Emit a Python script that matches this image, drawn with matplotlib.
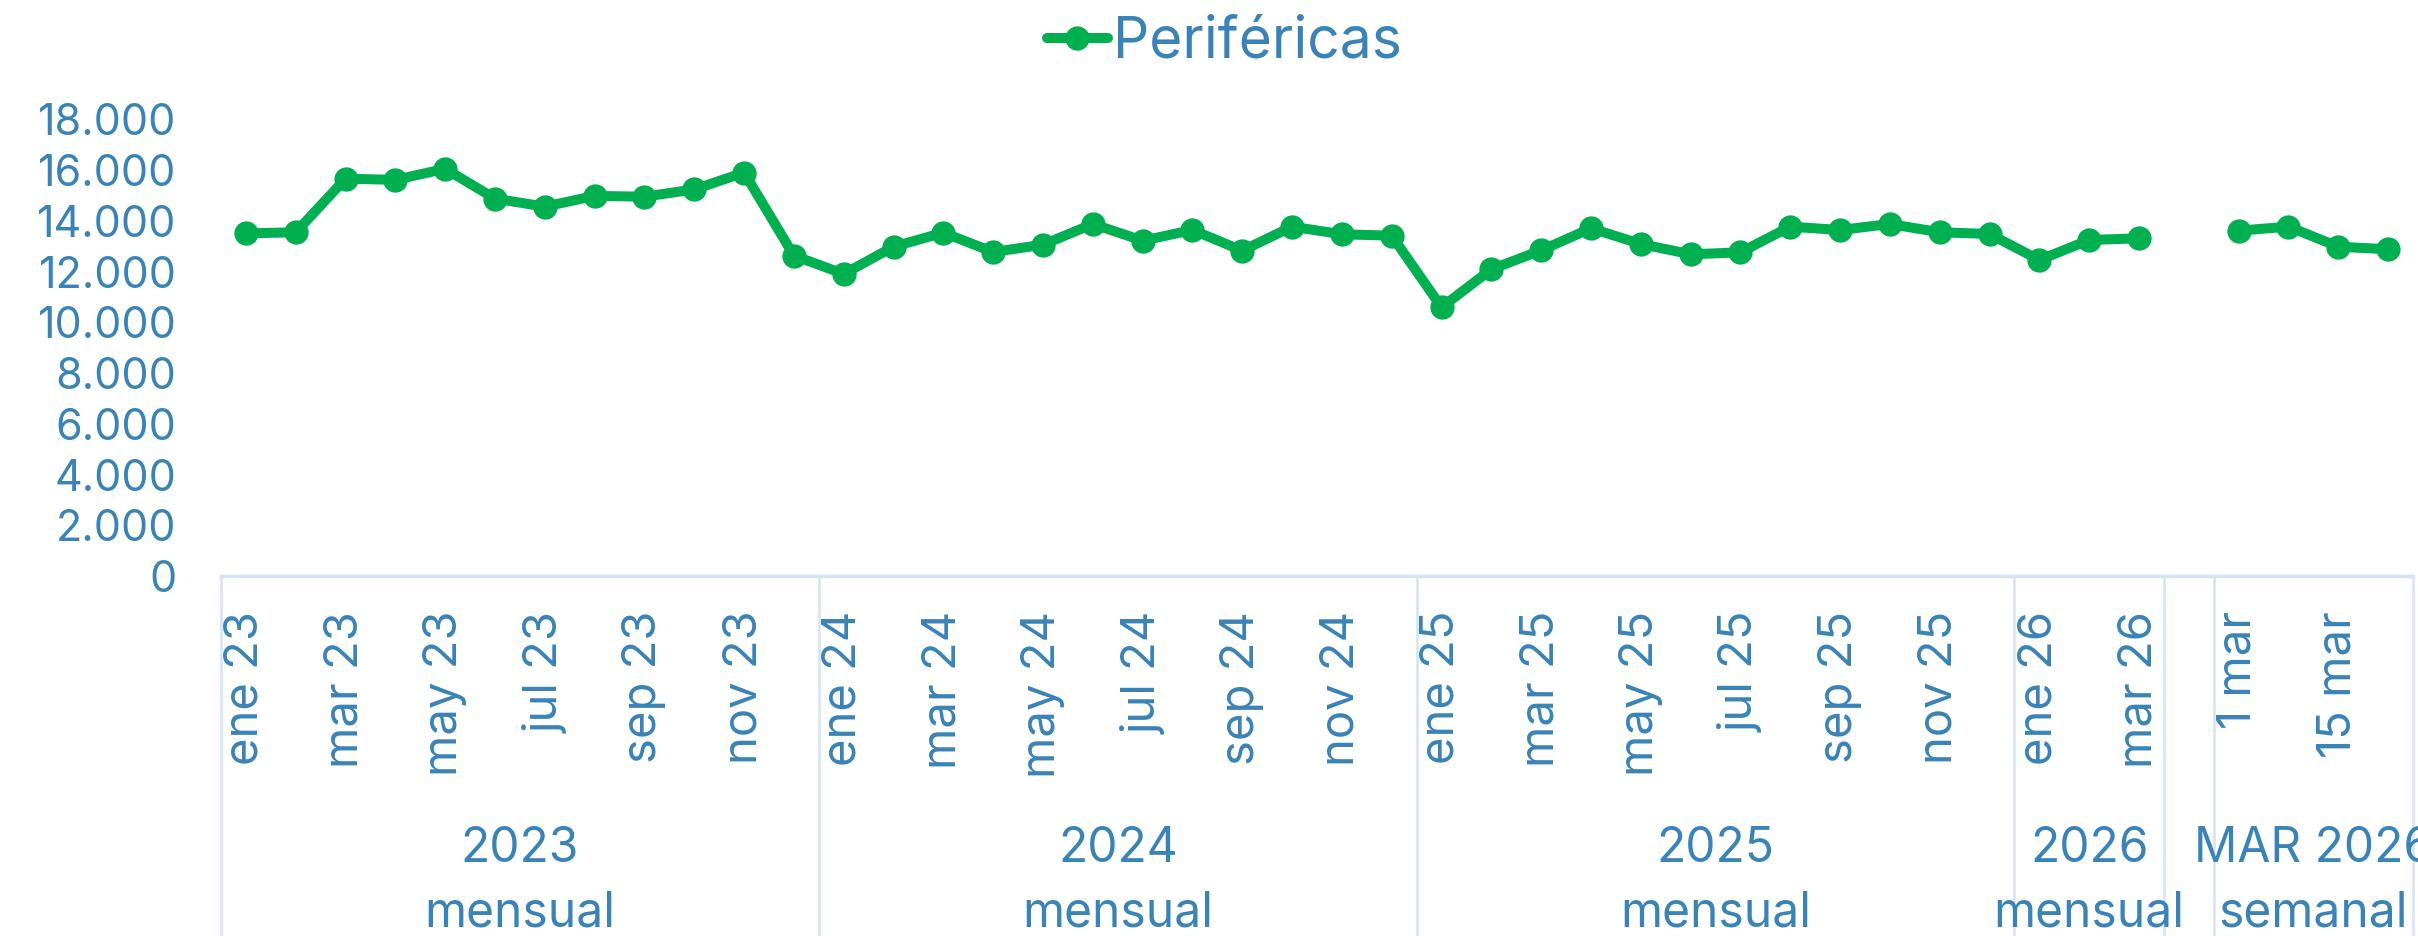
import numpy as np
import matplotlib
matplotlib.use("Agg")
import matplotlib.pyplot as plt
import matplotlib.transforms as mtransforms

plt.rcParams["font.family"] = ["Inter", "DejaVu Sans"]

# category labels (bottom level)
labels_2023 = ["ene 23", "feb 23", "mar 23", "abr 23", "may 23", "jun 23",
               "jul 23", "ago 23", "sep 23", "oct 23", "nov 23", "dic 23"]
labels_2024 = ["ene 24", "feb 24", "mar 24", "abr 24", "may 24", "jun 24",
               "jul 24", "ago 24", "sep 24", "oct 24", "nov 24", "dic 24"]
labels_2025 = ["ene 25", "feb 25", "mar 25", "abr 25", "may 25", "jun 25",
               "jul 25", "ago 25", "sep 25", "oct 25", "nov 25", "dic 25"]
labels_2026 = ["ene 26", "feb 26", "mar 26"]
labels_gap = [""]
labels_weekly = ["1 mar", "8 mar", "15 mar", "22 mar"]

# series values (Periféricas)
values_2023 = [13507, 13550, 15663, 15617, 16054, 14878, 14560, 14985, 14953, 15241, 15904, 12631]
values_2024 = [11907, 12982, 13534, 12773, 13061, 13877, 13219, 13640, 12825, 13772, 13471, 13416]
values_2025 = [10594, 12092, 12838, 13707, 13089, 12682, 12760, 13772, 13640, 13877, 13550, 13483]
values_2026 = [12458, 13246, 13313]
values_gap = [np.nan]
values_weekly = [13614, 13772, 12982, 12880]

# upper levels of the category axis
group_years = ["2023", "2024", "2025", "2026", "", "MAR 2026"]
group_freq = ["mensual", "mensual", "mensual", "mensual", "", "semanal"]
group_labels = [labels_2023, labels_2024, labels_2025, labels_2026, labels_gap, labels_weekly]
group_values = [values_2023, values_2024, values_2025, values_2026, values_gap, values_weekly]

TEXT = "#3A83B7"
GREEN = "#00B050"
SEP = "#D5E4F2"

cats = [c for g in group_labels for c in g]
vals = [v for g in group_values for v in g]
x = np.arange(len(cats))

W, H = 2418, 936
fig = plt.figure(figsize=(W / 100, H / 100), dpi=100)
ax_bottom_px, ax_top_px = 576, 119.4
ax_h_px = ax_bottom_px - ax_top_px
ax = fig.add_axes([221 / W, 1 - ax_bottom_px / H, (2413 - 221) / W, ax_h_px / H])

ax.plot(x, vals, color=GREEN, lw=7.2, marker="o", ms=16.5,
        solid_joinstyle="round", solid_capstyle="round", label="Periféricas")

ax.set_xlim(-0.5, len(cats) - 0.5)
ax.set_ylim(0, 18000)
yt = np.arange(0, 18001, 2000)
ax.set_yticks(yt)
ax.set_yticklabels([f"{v:,}".replace(",", ".") for v in yt], fontsize=31, color=TEXT)

# every second label, skipping the blank gap category
tick_pos = [i for i in range(0, len(cats), 2) if cats[i]]
ax.set_xticks(tick_pos)
ax.set_xticklabels([cats[i] for i in tick_pos], rotation=90, fontsize=34, color=TEXT)
ax.tick_params(axis="x", length=0, pad=25)
ax.tick_params(axis="y", length=0, pad=32)

for s in ["top", "right", "left"]:
    ax.spines[s].set_visible(False)
ax.spines["bottom"].set_color(SEP)
ax.spines["bottom"].set_linewidth(2.5)

# group separators and labels
trans = mtransforms.blended_transform_factory(ax.transData, ax.transAxes)
sizes = [len(g) for g in group_labels]
bounds = np.concatenate([[0], np.cumsum(sizes)]) - 0.5
ax.vlines(bounds, -0.82, 0, transform=trans, clip_on=False, color=SEP, lw=1.8)

y_year = (ax_bottom_px - 862) / ax_h_px
y_freq = (ax_bottom_px - 926) / ax_h_px
for i, (yr, fr) in enumerate(zip(group_years, group_freq)):
    cx = (bounds[i] + bounds[i + 1]) / 2
    ax.text(cx, y_year, yr, transform=trans, ha="center", va="baseline",
            fontsize=34.5, color=TEXT, clip_on=False)
    ax.text(cx, y_freq, fr, transform=trans, ha="center", va="baseline",
            fontsize=34.5, color=TEXT, clip_on=False)

fig.legend(loc="center", bbox_to_anchor=(1224.5 / W, 1 - 43 / H), frameon=False,
           fontsize=41, labelcolor=TEXT, handlelength=1.07, handletextpad=0.1,
           borderpad=0, borderaxespad=0)

fig.savefig("out.png", dpi=100)
